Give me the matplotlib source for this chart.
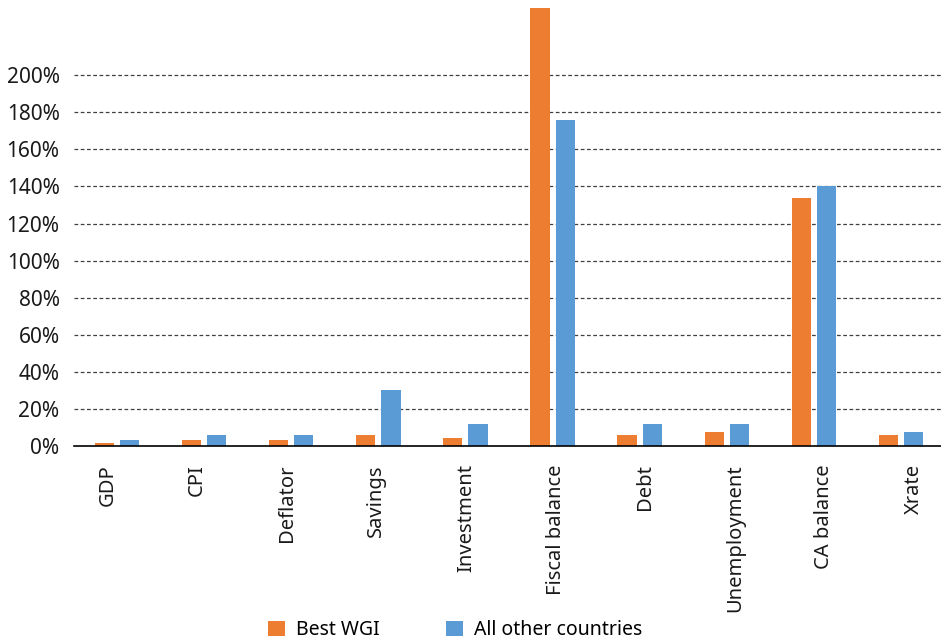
import matplotlib
matplotlib.use("Agg")
import matplotlib.pyplot as plt
import numpy as np

plt.rcParams['font.family'] = ['Noto Sans', 'DejaVu Sans']

categories = ["GDP", "CPI", "Deflator", "Savings", "Investment", "Fiscal balance",
              "Debt", "Unemployment", "CA balance", "Xrate"]
best_wgi = [1.6, 3, 3, 6, 4.5, 236, 6, 7.5, 134, 6]
all_other = [3, 6, 6, 30, 12, 176, 12, 12, 140, 7.5]
yticks = [0, 20, 40, 60, 80, 100, 120, 140, 160, 180, 200]
ytick_labels = [f"{v}%" for v in yticks]

fig = plt.figure(figsize=(9.41, 6.39), dpi=100)
ax = fig.add_axes([73.5 / 941, 1 - 446 / 639, 871 / 941, 445 / 639])

x = np.arange(len(categories))
w = 0.22
gap = 0.035
ax.bar(x - w / 2 - gap, best_wgi, width=w, color="#ED7D31", label="Best WGI", zorder=3)
ax.bar(x + w / 2 + gap, all_other, width=w, color="#5B9BD5", label="All other countries", zorder=3)

ax.set_xlim(-0.5, len(categories) - 0.5)
ax.set_ylim(0, 240)
ax.set_yticks(yticks)
ax.set_yticklabels(ytick_labels, fontsize=15, color="#1a1a1a")
for v in yticks[1:]:
    ax.axhline(v, color="#404040", linestyle=(0, (3, 2)), linewidth=0.9, zorder=1)

# category labels are spread slightly wider than the bar groups
label_pos = x * 1.029 - 0.11
ax.set_xticks(label_pos)
ax.set_xticklabels(categories, rotation=90, fontsize=14.5, color="#1a1a1a", va="top")
ax.tick_params(axis="both", length=0)
ax.tick_params(axis="x", pad=13)
ax.tick_params(axis="y", pad=10)

for s in ["top", "right", "left"]:
    ax.spines[s].set_visible(False)
ax.spines["bottom"].set_color("#000000")
ax.spines["bottom"].set_linewidth(1.2)
ax.spines["bottom"].set_zorder(4)

fig.legend(loc="lower center", bbox_to_anchor=(0.484, -0.029), ncol=2, frameon=False,
           fontsize=14, handlelength=0.85, handleheight=0.85, columnspacing=3.4,
           handletextpad=0.6)

fig.savefig("out.png", dpi=100)
